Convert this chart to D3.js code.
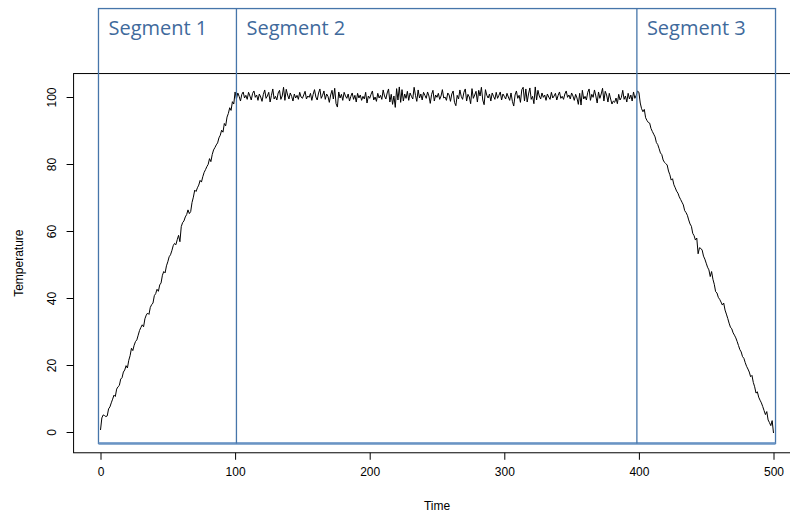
<!DOCTYPE html>
<html>
<head>
<meta charset="utf-8">
<script src="https://cdn.jsdelivr.net/npm/d3@7"></script>
<style>
  body { margin: 0; background: #fff; }
  svg { display: block; }
  .axis text { font-family: "Liberation Sans", Arial, sans-serif; font-size: 12px; fill: #000; }
  .seg-label { font-family: "Open Sans", sans-serif; font-size: 20px; fill: #3f6a9c; }
</style>
</head>
<body>
<svg id="chart" width="790" height="512"></svg>
<script>
// temperature readings, one per time step
var rampUp = [ // t = 0..100
  0.6, 4.2, 5.1, 4.9, 4.6, 4.8, 6.9, 7.5, 8.7, 9.8,
  11.0, 10.6, 12.8, 13.5, 13.9, 15.8, 16.2, 17.9, 18.5, 19.8,
  19.1, 21.4, 22.8, 25.0, 24.3, 25.9, 27.0, 27.5, 28.9, 30.3,
  31.2, 32.0, 31.4, 33.8, 34.9, 35.5, 35.1, 37.2, 38.0, 38.5,
  40.7, 41.3, 42.6, 42.0, 43.9, 44.5, 46.8, 47.9, 47.5, 49.6,
  50.8, 52.3, 52.9, 54.1, 55.6, 56.3, 55.9, 57.4, 58.7, 56.8,
  61.3, 62.5, 63.0, 64.2, 64.9, 66.3, 65.2, 65.8, 68.5, 70.1,
  72.2, 71.8, 72.9, 73.7, 75.1, 74.6, 76.2, 77.5, 78.3, 79.2,
  79.9, 81.6, 80.7, 82.8, 84.2, 84.9, 85.7, 86.3, 87.8, 88.6,
  90.1, 89.5, 92.1, 91.4, 94.0, 95.1, 96.8, 96.0, 98.6, 97.9,
  101.5
];
var plateau = [ // t = 101..399
  99.4, 101.2, 100.2, 98.8, 100.8, 101.5, 99.7, 100.5, 99.3, 101.4,
  100.3, 99.1, 101.1, 101.8, 99.9, 100.6, 99.0, 100.9, 100.0, 98.7,
  100.8, 102.1, 99.6, 100.3, 101.4, 98.5, 100.5, 102.4, 99.4, 100.2,
  99.1, 101.2, 102.0, 99.3, 100.3, 102.9, 99.0, 102.3, 100.6, 99.4,
  101.2, 100.2, 98.8, 100.9, 99.7, 100.5, 99.3, 101.4, 100.0, 99.6,
  100.6, 101.7, 99.4, 100.3, 99.9, 101.1, 99.0, 100.8, 102.2, 100.0,
  99.1, 101.2, 102.4, 99.6, 100.5, 101.8, 99.3, 100.9, 100.2, 98.4,
  100.6, 102.0, 99.4, 102.6, 98.0, 97.0, 101.5, 99.7, 100.8, 99.0,
  101.4, 100.3, 99.6, 100.9, 98.8, 100.2, 101.2, 99.3, 100.5, 98.5,
  101.1, 99.7, 100.6, 99.0, 100.2, 99.4, 101.4, 98.2, 100.3, 99.6,
  100.8, 101.8, 99.1, 100.0, 98.7, 101.1, 99.7, 100.5, 99.3, 102.1,
  100.3, 99.4, 101.2, 102.4, 98.5, 100.8, 97.8, 100.3, 96.9, 102.5,
  99.1, 103.0, 98.4, 102.2, 98.8, 100.9, 99.6, 101.7, 99.0, 101.2,
  100.2, 99.4, 102.9, 100.5, 98.7, 102.1, 99.7, 100.9, 99.1, 101.4,
  100.5, 99.6, 101.5, 100.3, 98.1, 100.8, 102.0, 98.8, 100.6, 99.9,
  101.1, 99.3, 100.3, 102.2, 99.7, 100.0, 99.0, 101.2, 100.6, 98.7,
  100.9, 101.8, 98.4, 97.4, 100.5, 99.4, 102.1, 100.2, 99.3, 101.4,
  102.4, 98.8, 100.8, 100.0, 98.0, 102.5, 99.6, 100.6, 101.7, 98.5,
  102.0, 100.3, 102.9, 99.1, 97.7, 102.2, 100.5, 99.7, 100.9, 98.8,
  101.2, 100.2, 99.3, 101.4, 99.6, 100.5, 101.5, 99.1, 100.9, 100.2,
  99.4, 101.1, 100.0, 99.0, 101.2, 98.7, 97.3, 100.6, 101.8, 99.6,
  100.5, 98.4, 102.2, 102.9, 98.8, 102.4, 98.5, 100.9, 102.7, 99.3,
  100.2, 98.0, 103.0, 99.1, 102.0, 100.3, 99.4, 101.2, 99.9, 100.6,
  99.0, 100.9, 100.0, 99.3, 101.4, 99.7, 100.3, 101.1, 99.1, 100.5,
  101.5, 99.6, 100.2, 99.3, 100.9, 101.8, 99.9, 100.6, 99.4, 101.2,
  100.3, 99.0, 100.8, 99.7, 97.8, 101.1, 97.6, 102.0, 99.4, 100.2,
  99.1, 101.4, 102.4, 99.0, 100.8, 99.9, 102.1, 100.3, 98.2, 101.5,
  99.6, 100.9, 102.6, 98.8, 101.7, 100.6, 98.5, 101.1, 99.4, 97.9,
  98.8, 98.4, 99.7, 98.0, 100.8, 99.1, 99.9, 102.0, 99.3, 100.3,
  98.5, 101.1, 99.4, 100.6, 98.8, 101.5, 99.6, 100.5, 101.8
];
var rampDown = [ // t = 400..500
  101.4, 98.2, 96.5, 95.6, 96.3, 93.8, 93.0, 92.4, 92.2, 90.6,
  89.7, 88.9, 88.1, 86.4, 85.8, 84.6, 83.3, 82.8, 81.2, 80.5,
  80.1, 79.7, 77.9, 76.8, 75.2, 75.6, 73.8, 72.9, 71.9, 71.3,
  70.2, 69.4, 68.6, 67.8, 66.1, 65.5, 64.7, 63.3, 62.1, 61.4,
  59.3, 58.6, 57.3, 57.9, 53.2, 55.0, 54.8, 54.3, 52.5, 51.6,
  50.4, 49.2, 48.4, 46.4, 47.9, 45.6, 44.1, 41.9, 41.5, 40.2,
  39.6, 38.8, 37.9, 38.5, 36.4, 35.2, 33.9, 32.5, 31.3, 30.8,
  29.6, 28.9, 28.1, 27.0, 25.8, 24.6, 23.9, 22.5, 22.0, 20.7,
  19.6, 18.8, 17.9, 16.5, 16.9, 14.8, 13.5, 11.6, 12.0, 10.4,
  9.5, 8.7, 7.6, 6.4, 5.2, 6.1, 3.6, 2.8, 1.9, 3.4,
  -0.3
];
var xTicks = [0, 100, 200, 300, 400, 500];
var yTicks = [0, 20, 40, 60, 80, 100];
var segLabels = ['Segment 1', 'Segment 2', 'Segment 3'];
var segBreaks = [-1.5, 101, 398.5, 501.5]; // in time units
var segTop = 126.4, segBottom = -3.4;      // in temperature units

var temperature = rampUp.concat(plateau, rampDown);
var data = temperature.map(function (v, i) { return { t: i, v: v }; });

var svg = d3.select('#chart');
var x = d3.scaleLinear().domain([0, 500]).range([100.5, 773.5]);
var y = d3.scaleLinear().domain([0, 100]).range([432, 97]);

// plot box (R style, runs past the right edge)
var boxL = x(-20), boxR = x(520), boxT = y(107), boxB = y(-6.2);
svg.append('rect')
  .attr('x', boxL).attr('y', boxT)
  .attr('width', boxR - boxL).attr('height', boxB - boxT)
  .attr('fill', 'none').attr('stroke', '#000').attr('stroke-width', 1);

// x axis
var xAxis = d3.axisBottom(x).tickValues(xTicks).tickSize(7).tickPadding(8).tickSizeOuter(0);
var gx = svg.append('g').attr('class', 'axis').attr('transform', 'translate(0,' + boxB + ')').call(xAxis);
gx.select('.domain').remove();

// y axis, labels rotated like R
var yAxis = d3.axisLeft(y).tickValues(yTicks).tickSize(7).tickSizeOuter(0);
var gy = svg.append('g').attr('class', 'axis').attr('transform', 'translate(' + boxL + ',0)').call(yAxis);
gy.select('.domain').remove();
gy.selectAll('.tick text')
  .attr('x', 0).attr('dy', null)
  .attr('text-anchor', 'middle')
  .attr('transform', 'translate(-18,0) rotate(-90)');

svg.append('text')
  .attr('x', (boxL + boxR) / 2).attr('y', 510)
  .attr('text-anchor', 'middle')
  .style('font-family', '"Liberation Sans", Arial, sans-serif').style('font-size', '12px')
  .text('Time');
svg.append('text')
  .attr('transform', 'translate(23,' + (boxT + boxB) / 2 + ') rotate(-90)')
  .attr('text-anchor', 'middle')
  .style('font-family', '"Liberation Sans", Arial, sans-serif').style('font-size', '12px')
  .text('Temperature');

// series
var line = d3.line().x(function (d) { return x(d.t); }).y(function (d) { return y(d.v); });
svg.append('path').datum(data)
  .attr('d', line)
  .attr('fill', 'none').attr('stroke', '#000').attr('stroke-width', 1)
  .attr('stroke-linejoin', 'round');

// segment overlay
var blue = '#4675aa';
svg.append('rect')
  .attr('x', x(segBreaks[0])).attr('y', y(segTop))
  .attr('width', x(segBreaks[3]) - x(segBreaks[0]))
  .attr('height', y(segBottom) - y(segTop))
  .attr('fill', 'none').attr('stroke', blue).attr('stroke-width', 1.3);
svg.append('line')
  .attr('x1', x(segBreaks[0])).attr('x2', x(segBreaks[3]))
  .attr('y1', y(segBottom)).attr('y2', y(segBottom))
  .attr('stroke', '#6a94c4').attr('stroke-width', 2.5);
svg.selectAll('.seg-line').data(segBreaks.slice(1, 3)).enter().append('line')
  .attr('class', 'seg-line')
  .attr('x1', function (d) { return x(d); }).attr('x2', function (d) { return x(d); })
  .attr('y1', y(segTop)).attr('y2', y(segBottom))
  .attr('stroke', blue).attr('stroke-width', 1.3);
svg.selectAll('.seg-label').data(segLabels).enter().append('text')
  .attr('class', 'seg-label')
  .attr('x', function (d, i) { return x(segBreaks[i]) + 10; })
  .attr('y', 35)
  .text(function (d) { return d; });
</script>
</body>
</html>
